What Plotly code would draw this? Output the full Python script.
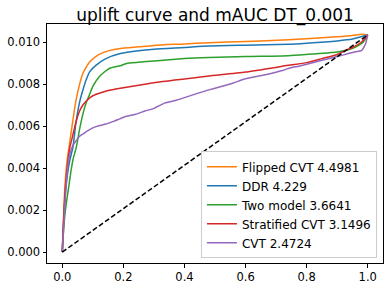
import plotly.graph_objects as go

# Flipped CVT
flip_x = [0, 0.004, 0.008, 0.012, 0.016, 0.02, 0.025, 0.03, 0.035, 0.04, 0.046, 0.055, 0.067, 0.078, 0.089, 0.1, 0.121, 0.154, 0.19, 0.25, 0.3, 0.4, 0.48, 0.6, 0.74, 0.8, 0.9, 0.95, 0.98, 1.0]
flip_y = [0, 0.0016, 0.0030, 0.0038, 0.0044, 0.0048, 0.0053, 0.0058, 0.0063, 0.0068, 0.0073, 0.0079, 0.0085, 0.0088, 0.00905, 0.0092, 0.00942, 0.0096, 0.0097, 0.00978, 0.00985, 0.00992, 0.00998, 0.01004, 0.01012, 0.01017, 0.01026, 0.01032, 0.01038, 0.01035]

# DDR
ddr_x = [0, 0.004, 0.008, 0.012, 0.016, 0.02, 0.025, 0.03, 0.035, 0.045, 0.056, 0.067, 0.078, 0.09, 0.11, 0.143, 0.19, 0.25, 0.3, 0.4, 0.48, 0.6, 0.74, 0.8, 0.9, 0.95, 0.975, 1.0]
ddr_y = [0, 0.0013, 0.0024, 0.0031, 0.0036, 0.0040, 0.0044, 0.0047, 0.0050, 0.0062, 0.0071, 0.0077, 0.0082, 0.0086, 0.0089, 0.00922, 0.00946, 0.0096, 0.00967, 0.00975, 0.00982, 0.00986, 0.0099, 0.00995, 0.01006, 0.01015, 0.01025, 0.01035]

# Two model
two_x = [0, 0.004, 0.008, 0.013, 0.018, 0.024, 0.029, 0.035, 0.046, 0.056, 0.067, 0.078, 0.089, 0.1, 0.121, 0.154, 0.19, 0.21, 0.25, 0.3, 0.4, 0.48, 0.6, 0.74, 0.8, 0.9, 0.93, 0.96, 0.985, 1.0]
two_y = [0, 0.0010, 0.0017, 0.0023, 0.0028, 0.0034, 0.0039, 0.0044, 0.0050, 0.0058, 0.00655, 0.0071, 0.0075, 0.0079, 0.00836, 0.00875, 0.00888, 0.00899, 0.00905, 0.00911, 0.00922, 0.00927, 0.00932, 0.00936, 0.00942, 0.00954, 0.00962, 0.00977, 0.0100, 0.01035]

# Stratified CVT
strat_x = [0, 0.004, 0.008, 0.012, 0.016, 0.02, 0.025, 0.03, 0.035, 0.045, 0.056, 0.067, 0.083, 0.1, 0.121, 0.15, 0.19, 0.25, 0.3, 0.4, 0.48, 0.6, 0.74, 0.8, 0.85, 0.9, 0.926, 0.95, 0.979, 1.0]
strat_y = [0, 0.0014, 0.0026, 0.0034, 0.0040, 0.0045, 0.0050, 0.0053, 0.0056, 0.0062, 0.0067, 0.0070, 0.00726, 0.00745, 0.00757, 0.0077, 0.00781, 0.00795, 0.00807, 0.00825, 0.00839, 0.00858, 0.0089, 0.00903, 0.00922, 0.00942, 0.0096, 0.00975, 0.0100, 0.01035]

# CVT
cvt_x = [0, 0.005, 0.01, 0.015, 0.02, 0.025, 0.03, 0.035, 0.045, 0.055, 0.067, 0.08, 0.1, 0.12, 0.143, 0.17, 0.19, 0.21, 0.24, 0.27, 0.3, 0.335, 0.37, 0.4, 0.44, 0.48, 0.52, 0.56, 0.6, 0.64, 0.68, 0.72, 0.74, 0.774, 0.8, 0.85, 0.9, 0.937, 0.96, 0.979, 0.993, 1.0]
cvt_y = [0, 0.0013, 0.0026, 0.0036, 0.0043, 0.0047, 0.0049, 0.0051, 0.0053, 0.0055, 0.00562, 0.00575, 0.00592, 0.00602, 0.0061, 0.00624, 0.00636, 0.00647, 0.00657, 0.00672, 0.00685, 0.0071, 0.00722, 0.00736, 0.00755, 0.00773, 0.00789, 0.00806, 0.00826, 0.00838, 0.0085, 0.00865, 0.00875, 0.00886, 0.00895, 0.00914, 0.00932, 0.00946, 0.00955, 0.0096, 0.00993, 0.01035]

# Random baseline
base_x = [0, 1.0]
base_y = [0, 0.01035]

series = [
    ("Flipped CVT 4.4981", flip_x, flip_y, "#ff7f0e"),
    ("DDR 4.229", ddr_x, ddr_y, "#1f77b4"),
    ("Two model 3.6641", two_x, two_y, "#2ca02c"),
    ("Stratified CVT 3.1496", strat_x, strat_y, "#d62728"),
    ("CVT 2.4724", cvt_x, cvt_y, "#9467bd"),
]

x_ticks = [0.0, 0.2, 0.4, 0.6, 0.8, 1.0]
y_ticks = [0.000, 0.002, 0.004, 0.006, 0.008, 0.010]

fig = go.Figure()
for name, xs, ys, col in series:
    fig.add_trace(go.Scatter(x=xs, y=ys, mode="lines", name=name, hoverinfo="skip",
                             line=dict(color=col, width=1.5, shape="spline", smoothing=0.6)))
fig.add_trace(go.Scatter(x=base_x, y=base_y, mode="lines", showlegend=False, hoverinfo="skip",
                         line=dict(color="black", width=1.5, dash="5px,2.5px")))

font = "DejaVu Sans, Liberation Sans, sans-serif"
fig.update_layout(
    width=391, height=291,
    margin=dict(l=47, r=7, t=24, b=25),
    paper_bgcolor="white", plot_bgcolor="white",
    font=dict(family=font, size=11.5, color="black"),
    title=dict(text="uplift curve and mAUC DT_0.001", x=0.5, xref="paper",
               y=0.950, yanchor="middle", xanchor="center",
               font=dict(size=17, color="black", family=font)),
    legend=dict(x=0.982, y=0.0195, xanchor="right", yanchor="bottom",
                bgcolor="rgba(255,255,255,0.8)", bordercolor="#cccccc", borderwidth=1,
                font=dict(size=12, family=font), itemwidth=30, tracegroupgap=0),
    xaxis=dict(range=[-0.05, 1.05], tickvals=x_ticks, tickformat=".1f",
               showgrid=False, zeroline=False, showline=True, linecolor="black",
               linewidth=1, mirror=True, ticks="outside", ticklen=3.5, tickwidth=1,
               tickcolor="black"),
    yaxis=dict(range=[-0.00052, 0.01087], tickvals=y_ticks, tickformat=".3f",
               showgrid=False, zeroline=False, showline=True, linecolor="black",
               linewidth=1, mirror=True, ticks="outside", ticklen=3.5, tickwidth=1,
               tickcolor="black"),
)
fig.write_html("out.html", config={"displayModeBar": False},
               post_script="document.body.style.margin='0';document.body.style.overflow='hidden';")
